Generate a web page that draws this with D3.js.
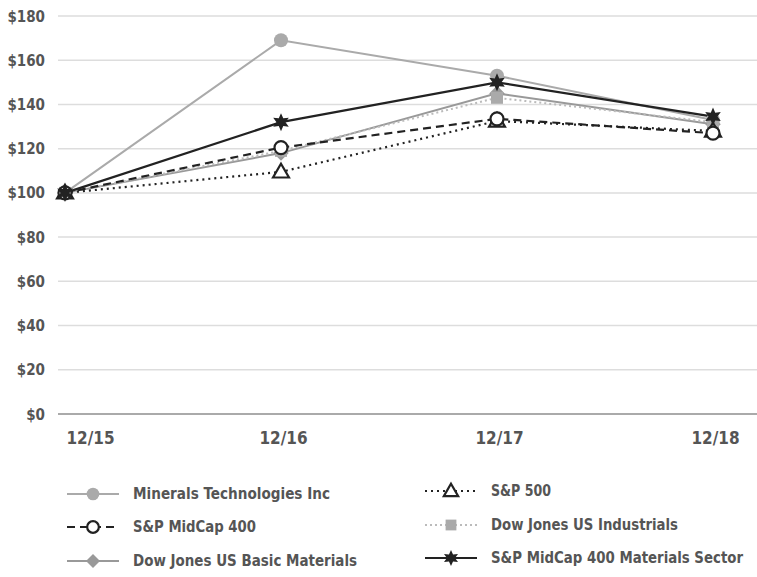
<!DOCTYPE html>
<html><head><meta charset="utf-8">
<script src="https://cdn.jsdelivr.net/npm/d3@7"></script>
<style>
body{margin:0;background:#fff;}
text{font-family:"DejaVu Sans Condensed","DejaVu Sans",sans-serif;font-stretch:condensed;font-weight:bold;fill:#555;}
</style></head>
<body><svg id="c" width="757" height="577"></svg>
<script>
const categories = ["12/15","12/16","12/17","12/18"];
const yTicks = [0,20,40,60,80,100,120,140,160,180];
const seriesNames = ["Minerals Technologies Inc","S&P 500","S&P MidCap 400","Dow Jones US Industrials","Dow Jones US Basic Materials","S&P MidCap 400 Materials Sector"];
const mineralsTech = [100,169,153,133];
const sp500 = [100,109.5,132.5,128];
const midcap400 = [100,120.5,133.5,127];
const djIndustrials = [100,119,143,132];
const djBasicMaterials = [100,118,145,131];
const midcapMaterials = [100,132,150,134.5];

const styles = [
  {values:mineralsTech, color:"#aaa", width:2, dash:null, marker:"circleFill", mcolor:"#aaa"},
  {values:sp500, color:"#222", width:2.2, dash:"2,4", marker:"triangle", mcolor:"#222"},
  {values:midcap400, color:"#222", width:2.2, dash:"8,5", marker:"circleOpen", mcolor:"#222"},
  {values:djIndustrials, color:"#bbb", width:2, dash:"2,3", marker:"square", mcolor:"#aaa"},
  {values:djBasicMaterials, color:"#999", width:2, dash:null, marker:"diamond", mcolor:"#999"},
  {values:midcapMaterials, color:"#222", width:2.2, dash:null, marker:"star", mcolor:"#222"}
];
const legendWidths = [197,60,123,187,224,252];
const drawOrder = [4,3,0,1,2,5];

const svg = d3.select("#c");
const x = d3.scalePoint().domain(categories).range([65,713]);
const y = d3.scaleLinear().domain([0,180]).range([414,16]);

svg.append("g").selectAll("line").data(yTicks).join("line")
  .attr("x1",58).attr("x2",757)
  .attr("y1",d=>y(d)).attr("y2",d=>y(d))
  .attr("stroke",d=>d===0?"#aaa":"#ddd").attr("stroke-width",d=>d===0?2:1.5);

const yAxis = svg.append("g").attr("transform","translate(45,0)")
  .call(d3.axisLeft(y).tickValues(yTicks).tickSize(0).tickFormat(d=>"$"+d));
yAxis.select(".domain").remove();
yAxis.selectAll("text").attr("font-size",15).attr("dy","0.34em").attr("x",0).attr("font-family",null);

const xAxis = svg.append("g").attr("transform","translate(0,438)")
  .call(d3.axisBottom(x).tickSize(0));
xAxis.select(".domain").remove();
xAxis.selectAll("text").attr("font-size",17).attr("dy","0.35em").attr("y",0).attr("font-family",null)
  .attr("x",(d,i)=>i===0?25:2);

function drawMarker(g, type, cx, cy, color, s){
  s = s||1;
  if(type==="circleFill") g.append("circle").attr("cx",cx).attr("cy",cy).attr("r",7*s).attr("fill",color);
  else if(type==="circleOpen") g.append("circle").attr("cx",cx).attr("cy",cy).attr("r",6.5*s).attr("fill","#fff").attr("stroke",color).attr("stroke-width",2.2);
  else if(type==="triangle") g.append("path").attr("d",d3.symbol(d3.symbolTriangle,110*s*s)()).attr("transform",`translate(${cx},${cy+1})`).attr("fill","#fff").attr("stroke",color).attr("stroke-width",2.2);
  else if(type==="square") g.append("rect").attr("x",cx-6*s).attr("y",cy-6*s).attr("width",12*s).attr("height",12*s).attr("fill",color);
  else if(type==="diamond") g.append("rect").attr("x",-5.5*s).attr("y",-5.5*s).attr("width",11*s).attr("height",11*s).attr("transform",`translate(${cx},${cy}) rotate(45)`).attr("fill",color);
  else if(type==="star"){
    const pts=[]; for(let i=0;i<12;i++){const r=i%2?4.5*s:9*s;const a=Math.PI*i/6;pts.push([cx+r*Math.sin(a),cy-r*Math.cos(a)]);}
    g.append("path").attr("d","M"+pts.map(p=>p.join(",")).join("L")+"Z").attr("fill",color);
  }
}

const line = d3.line().x((d,i)=>x(categories[i])).y(d=>y(d));
const plot = svg.append("g");
drawOrder.forEach(k=>{
  const st = styles[k];
  plot.append("path").datum(st.values).attr("d",line).attr("fill","none")
    .attr("stroke",st.color).attr("stroke-width",st.width)
    .attr("stroke-dasharray",st.dash);
});
drawOrder.forEach(k=>{
  const st = styles[k];
  st.values.forEach((v,i)=>drawMarker(plot, st.marker, x(categories[i]), y(v), st.mcolor));
});

const legendPos = [[67,494],[425,491],[67,527],[425,525],[67,561],[425,558]];
const leg = svg.append("g");
styles.forEach((st,k)=>{
  const [lx,ly] = legendPos[k];
  const w = 52;
  leg.append("line").attr("x1",lx).attr("x2",lx+w).attr("y1",ly).attr("y2",ly)
    .attr("stroke",st.color).attr("stroke-width",st.width).attr("stroke-dasharray",st.dash);
  drawMarker(leg, st.marker, lx+w/2, ly, st.mcolor, 0.9);
  leg.append("text").attr("x",lx+66).attr("y",ly).attr("dy","0.35em").attr("font-size",15)
    .attr("textLength",legendWidths[k]).attr("lengthAdjust","spacingAndGlyphs").text(seriesNames[k]);
});
</script></body></html>
